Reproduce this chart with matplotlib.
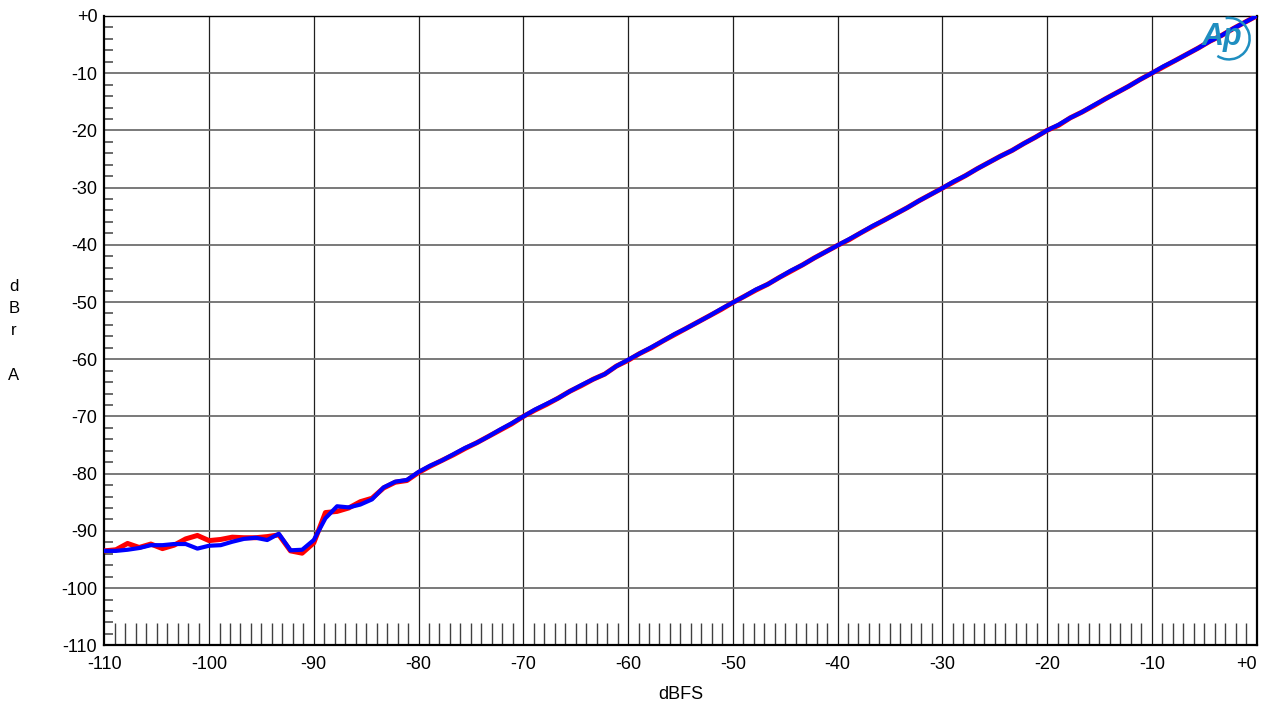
#!/usr/bin/env python3
import numpy as np
import matplotlib
matplotlib.use('Agg')
import matplotlib.pyplot as plt
from matplotlib.ticker import MultipleLocator
from matplotlib.patches import Arc

matplotlib.rcParams['font.family'] = ['Liberation Sans', 'DejaVu Sans']

# generator level sweep, 100 steps from -110 to 0 dBFS
level = np.linspace(-110, 0, 100)

# measured output, channel A (red) and channel B (blue), dBr
ch_red = [
    -93.5, -93.3, -92.2, -92.9, -92.3, -93.1, -92.5, -91.4, -90.8, -91.7,
    -91.5, -91.1, -91.2, -91.2, -91.0, -90.7, -93.5, -93.9, -92.1, -86.8,
    -86.6, -86.0, -84.9, -84.3, -82.5, -81.5, -81.2, -79.8, -78.7, -77.7,
    -76.7, -75.6, -74.6, -73.5, -72.4, -71.3, -70.0, -68.9, -67.9, -66.8,
    -65.6, -64.6, -63.5, -62.6, -61.2, -60.2, -59.0, -58.0, -56.8, -55.7,
    -54.6, -53.5, -52.4, -51.3, -50.1, -49.0, -47.9, -46.9, -45.7, -44.6,
    -43.5, -42.3, -41.2, -40.1, -39.1, -37.9, -36.8, -35.7, -34.6, -33.5,
    -32.3, -31.2, -30.1, -29.0, -27.9, -26.7, -25.6, -24.5, -23.5, -22.3,
    -21.2, -20.0, -19.1, -17.8, -16.8, -15.7, -14.5, -13.4, -12.3, -11.1,
    -10.0, -8.9, -7.8, -6.7, -5.6, -4.4, -3.4, -2.2, -1.1, 0.0,
]
ch_blue = [
    -93.5, -93.5, -93.3, -93.0, -92.5, -92.5, -92.3, -92.3, -93.1, -92.6,
    -92.5, -91.9, -91.4, -91.2, -91.6, -90.5, -93.4, -93.3, -91.6, -87.8,
    -85.7, -85.9, -85.4, -84.5, -82.4, -81.4, -81.1, -79.7, -78.6, -77.7,
    -76.6, -75.5, -74.6, -73.5, -72.3, -71.2, -70.0, -68.8, -67.8, -66.8,
    -65.6, -64.5, -63.5, -62.6, -61.2, -60.1, -59.0, -57.9, -56.8, -55.6,
    -54.6, -53.5, -52.4, -51.2, -50.1, -49.0, -47.8, -46.9, -45.7, -44.5,
    -43.5, -42.3, -41.2, -40.1, -39.0, -37.9, -36.7, -35.7, -34.6, -33.5,
    -32.3, -31.2, -30.1, -28.9, -27.9, -26.7, -25.6, -24.5, -23.5, -22.3,
    -21.2, -20.0, -19.0, -17.8, -16.8, -15.6, -14.5, -13.4, -12.3, -11.1,
    -10.0, -8.8, -7.8, -6.7, -5.6, -4.4, -3.4, -2.2, -1.1, 0.0,
]

xticks = np.arange(-110, 1, 10)
yticks = np.arange(-110, 1, 10)

def lbl(v):
    return "+0" if v == 0 else "%d" % v

fig = plt.figure(figsize=(12.64, 7.04), dpi=100)
ax = fig.add_axes([0.0825, 0.0834, 0.9116, 0.8939])

# grid: vertical lines black, horizontal lines grey
for x in xticks[1:-1]:
    ax.axvline(x, color='#202020', lw=0.9, zorder=1)
for y in yticks[1:-1]:
    ax.axhline(y, color='#6e6e6e', lw=1.3, zorder=1)

ax.plot(level, ch_red, color='#ff0000', lw=3.6, zorder=3)
ax.plot(level, ch_blue, color='#0000ff', lw=3.0, zorder=4)

ax.set_xlim(-110, 0)
ax.set_ylim(-110, 0)
ax.set_xticks(xticks)
ax.set_xticklabels([lbl(v) for v in xticks])
ax.set_yticks(yticks)
ax.set_yticklabels([lbl(v) for v in yticks])
ax.xaxis.set_minor_locator(MultipleLocator(1))
ax.yaxis.set_minor_locator(MultipleLocator(2))

ax.tick_params(axis='both', which='major', length=0, labelsize=13, colors='black')
ax.tick_params(axis='x', which='major', pad=8)
ax.tick_params(axis='y', which='major', pad=5)
ax.tick_params(axis='x', which='minor', direction='in', length=16, width=1.0, color='#404040',
               bottom=True, top=False)
ax.tick_params(axis='y', which='minor', direction='in', length=6.5, width=1.2, color='#505050',
               left=True, right=False)
ax.xaxis.get_majorticklabels()[-1].set_horizontalalignment('right')

for side in ['left', 'bottom', 'right']:
    ax.spines[side].set_linewidth(1.6)
ax.spines['top'].set_linewidth(1.0)

ax.set_xlabel("dBFS", fontsize=13, labelpad=9)
fig.text(0.011, 0.604, "d\nB\nr\n\nA", fontsize=12, ha='center', va='top', linespacing=1.6)

# AP logo, upper right corner
ax.text(0.970, 0.966, "Ap", transform=ax.transAxes, fontsize=22, fontstyle='italic',
        fontweight='bold', color='#1f8ec0', ha='center', va='center', zorder=5)
ax.add_patch(Arc((0.976, 0.964), 0.036, 0.066, theta1=-110, theta2=95,
                 transform=ax.transAxes, color='#1f8ec0', lw=1.8, zorder=5))

plt.savefig("out.png", dpi=100)
